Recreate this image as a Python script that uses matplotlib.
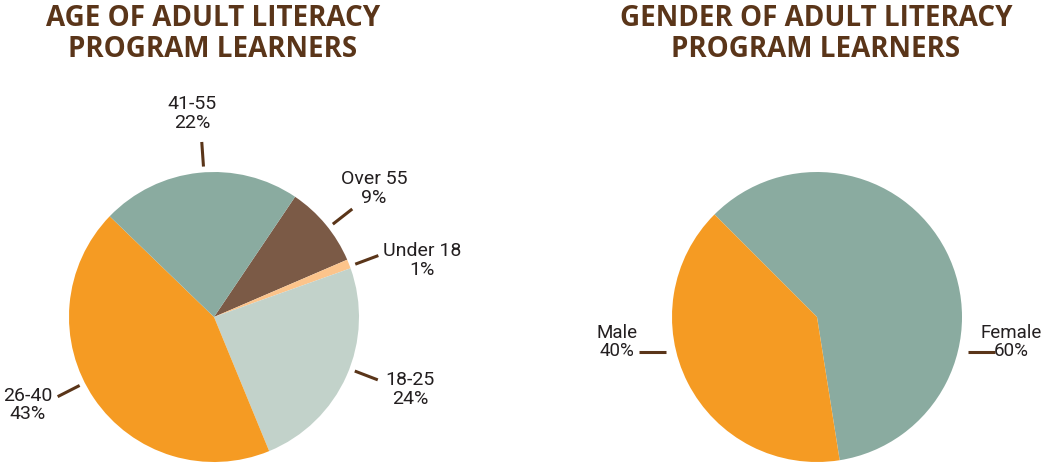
import numpy as np
import matplotlib.pyplot as plt

# data
age_groups = ['Over 55', 'Under 18', '18-25', '26-40', '41-55']
age_pct = [9, 1, 24, 43, 22]
age_colors = ['#7b5a46', '#fcc48b', '#c2d2ca', '#f59b23', '#8aaba0']

genders = ['Female', 'Male']
gender_pct = [60, 40]
gender_colors = ['#8aaba0', '#f59b23']

# label placement (degrees around the pie, radius in pie radii)
line_ang = [38, 20.5, -21, -153, 94]
text_ang = [39, 15.5, -20, -155, 96]
text_rad = [1.42, 1.49, 1.44, 1.42, 1.42]
gender_text_dx = [194, -200]

brown = '#5a3519'
font = ['Open Sans', 'DejaVu Sans']
label_font = ['Roboto', 'DejaVu Sans']

W, H = 1047, 464
fig = plt.figure(figsize=(W / 100, H / 100), dpi=100)
ax = fig.add_axes([0, 0, 1, 1])

R = 145
c_age = (214, H - 318)
c_gen = (817, H - 318)

def label(x, y, s, size=14):
    ax.text(x, y, s, ha='center', va='center', fontsize=size, family=label_font,
            linespacing=1.05, color='#231f20')

# --- left pie: age
ax.pie(age_pct, colors=age_colors, startangle=56, counterclock=False,
       center=c_age, radius=R, frame=True, wedgeprops=dict(linewidth=0))
for name, p, la, ta, tr in zip(age_groups, age_pct, line_ang, text_ang, text_rad):
    a, b = np.deg2rad(la), np.deg2rad(ta)
    ax.plot([c_age[0] + 1.04 * R * np.cos(a), c_age[0] + 1.21 * R * np.cos(a)],
            [c_age[1] + 1.04 * R * np.sin(a), c_age[1] + 1.21 * R * np.sin(a)],
            color=brown, lw=2.2, solid_capstyle='butt')
    label(c_age[0] + tr * R * np.cos(b), c_age[1] + tr * R * np.sin(b), f'{name}\n{p}%')

# --- right pie: gender
ax.pie(gender_pct, colors=gender_colors, startangle=135, counterclock=False,
       center=c_gen, radius=R, frame=True, wedgeprops=dict(linewidth=0))
for name, p, side, dx in zip(genders, gender_pct, [1, -1], gender_text_dx):
    y = c_gen[1] - 35
    ax.plot([c_gen[0] + side * 151, c_gen[0] + side * 178], [y, y],
            color=brown, lw=2.2, solid_capstyle='butt')
    label(c_gen[0] + dx, y + 11, f'{name}\n{p}%', size=13.5)

ax.set_xlim(0, W)
ax.set_ylim(0, H)
ax.set_aspect('equal')
ax.axis('off')

# titles
for x, t in [(213, 'AGE OF ADULT LITERACY\nPROGRAM LEARNERS'),
             (816, 'GENDER OF ADULT LITERACY\nPROGRAM LEARNERS')]:
    ax.text(x, H - 34, t, ha='center', va='center', fontsize=20, fontweight='bold',
            family=font, color=brown, linespacing=1.1)

fig.savefig('out.png', dpi=100)
